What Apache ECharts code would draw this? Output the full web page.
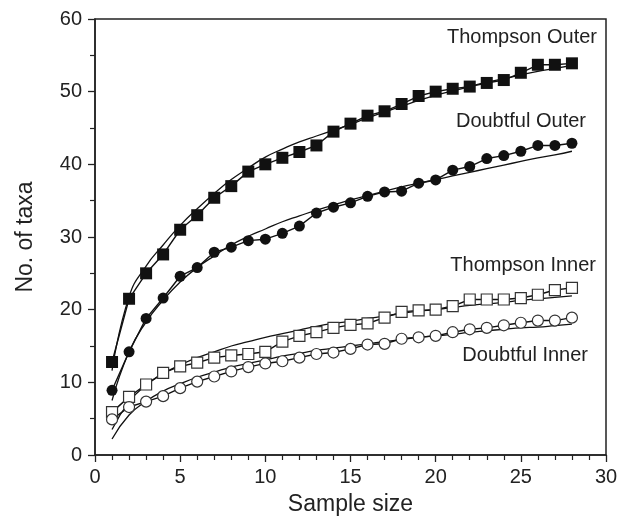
<!DOCTYPE html>
<html>
<head>
<meta charset="utf-8">
<script src="https://cdn.jsdelivr.net/npm/echarts@6/dist/echarts.min.js"></script>
<style>html,body{margin:0;padding:0;background:#fff;}#c{width:625px;height:521px;}</style>
</head>
<body>
<div id="c"></div>
<script>
var sampleSizes = [1,2,3,4,5,6,7,8,9,10,11,12,13,14,15,16,17,18,19,20,21,22,23,24,25,26,27,28];
var thompsonOuter = [12.8,21.5,25.0,27.6,31.0,33.0,35.4,37.0,39.0,40.0,40.9,41.7,42.6,44.5,45.6,46.7,47.3,48.3,49.4,50.0,50.4,50.7,51.2,51.6,52.6,53.7,53.7,53.9];
var doubtfulOuter = [8.9,14.2,18.8,21.6,24.6,25.8,27.9,28.6,29.5,29.7,30.5,31.5,33.3,34.1,34.7,35.6,36.2,36.3,37.4,37.85,39.2,39.7,40.8,41.2,41.8,42.6,42.6,42.9];
var thompsonInner = [5.9,8.0,9.7,11.3,12.2,12.7,13.4,13.7,13.9,14.2,15.6,16.4,16.9,17.5,17.9,18.1,18.9,19.7,19.9,20.0,20.5,21.4,21.4,21.4,21.6,22.05,22.7,23.0];
var doubtfulInner = [4.9,6.6,7.35,8.1,9.2,10.1,10.8,11.5,12.1,12.6,12.9,13.4,13.9,14.1,14.6,15.2,15.3,16.0,16.2,16.4,16.9,17.3,17.5,17.85,18.2,18.5,18.5,18.9];
var fitThompsonOuter = [11.6,21.8,26.0,28.9,31.6,33.9,36.0,37.9,39.5,41.0,42.1,43.1,43.9,44.7,45.5,46.4,47.2,48.0,48.8,49.5,50.1,50.7,51.3,51.8,52.3,52.8,53.2,53.6];
var fitDoubtfulOuter = [7.5,14.2,18.3,21.3,23.8,25.8,27.4,28.9,30.1,31.1,32.1,32.9,33.7,34.4,35.1,35.7,36.3,36.9,37.4,37.9,38.4,38.9,39.4,39.9,40.4,40.9,41.3,41.8];
var fitThompsonInner = [3.5,7.3,9.6,11.2,12.4,13.4,14.2,15.0,15.6,16.2,16.7,17.2,17.7,18.1,18.4,18.8,19.1,19.5,19.8,20.0,20.3,20.6,20.8,21.0,21.3,21.5,21.7,21.9];
var fitDoubtfulInner = [2.2,5.5,7.4,8.8,9.8,10.7,11.4,12.1,12.6,13.1,13.6,14.0,14.4,14.7,15.0,15.3,15.6,15.9,16.2,16.4,16.6,16.9,17.1,17.3,17.5,17.6,17.8,18.0];
var seriesNames = ['Thompson Outer','Doubtful Outer','Thompson Inner','Doubtful Inner'];
var xTitle = 'Sample size';
var yTitle = 'No. of taxa';

function pairs(vals){ return sampleSizes.map(function(x,i){ return [x, vals[i]]; }); }
var FONT = 'Liberation Sans, Arial, Helvetica, sans-serif';

function pointSeries(name, vals, symbol, filled){
  return {
    name: name, type: 'line', data: pairs(vals), z: 5,
    symbol: symbol, symbolSize: filled ? (symbol==='rect'?12:11) : 11,
    showAllSymbol: true,
    lineStyle: {color: '#111', width: 1.4},
    itemStyle: filled ? {color: '#111', borderWidth: 0} : {color: '#fff', borderColor: '#333', borderWidth: 1.2},
    emphasis: {disabled: true}, animation: false
  };
}
function fitSeries(vals){
  return {
    type: 'line', data: pairs(vals), z: 3, symbol: 'none', smooth: true,
    lineStyle: {color: '#111', width: 1.3}, emphasis: {disabled: true}, animation: false
  };
}

var chart = echarts.init(document.getElementById('c'), null, {renderer: 'canvas'});
chart.setOption({
  backgroundColor: '#fff',
  animation: false,
  grid: {left: 95, right: 19, top: 19, bottom: 64, show: true, borderColor: '#222', borderWidth: 1.5, backgroundColor: 'transparent'},
  xAxis: {
    type: 'value', min: 0, max: 30, interval: 5,
    name: xTitle, nameLocation: 'middle', nameGap: 38,
    nameTextStyle: {fontFamily: FONT, fontSize: 23, color: '#222'},
    axisLine: {show: true, onZero: false, lineStyle: {color: '#222', width: 1.5}},
    axisTick: {show: true, inside: false, length: 7, lineStyle: {color: '#222', width: 1.3}},
    minorTick: {show: true, splitNumber: 5, length: 5, lineStyle: {color: '#222', width: 1.2}},
    axisLabel: {fontFamily: FONT, fontSize: 20, color: '#222', margin: 12},
    splitLine: {show: false}
  },
  yAxis: {
    type: 'value', min: 0, max: 60, interval: 10,
    name: yTitle, nameLocation: 'middle', nameGap: 58,
    nameTextStyle: {fontFamily: FONT, fontSize: 23, color: '#222'},
    axisLine: {show: true, lineStyle: {color: '#222', width: 1.5}},
    axisTick: {show: true, inside: false, length: 7, lineStyle: {color: '#222', width: 1.3}},
    minorTick: {show: true, splitNumber: 2, length: 5, lineStyle: {color: '#222', width: 1.2}},
    axisLabel: {fontFamily: FONT, fontSize: 20, color: '#222', margin: 13},
    splitLine: {show: false}
  },
  graphic: [
    {type: 'text', right: 28, top: 27, style: {text: seriesNames[0], font: '20px ' + FONT, fill: '#222'}},
    {type: 'text', right: 39, top: 111, style: {text: seriesNames[1], font: '20px ' + FONT, fill: '#222'}},
    {type: 'text', right: 29, top: 255, style: {text: seriesNames[2], font: '20px ' + FONT, fill: '#222'}},
    {type: 'text', right: 37, top: 345, style: {text: seriesNames[3], font: '20px ' + FONT, fill: '#222'}}
  ],
  series: [
    fitSeries(fitThompsonOuter),
    fitSeries(fitDoubtfulOuter),
    fitSeries(fitThompsonInner),
    fitSeries(fitDoubtfulInner),
    pointSeries(seriesNames[0], thompsonOuter, 'rect', true),
    pointSeries(seriesNames[1], doubtfulOuter, 'circle', true),
    pointSeries(seriesNames[2], thompsonInner, 'rect', false),
    pointSeries(seriesNames[3], doubtfulInner, 'circle', false)
  ]
});
</script>
</body>
</html>
